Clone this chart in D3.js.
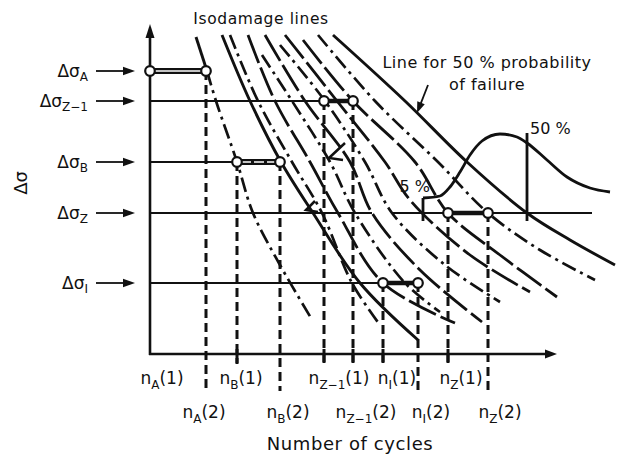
<!DOCTYPE html>
<html><head><meta charset="utf-8">
<script src="https://cdn.jsdelivr.net/npm/d3@7"></script>
<style>
body{margin:0;background:#fff}
svg{display:block}
text{font-family:"DejaVu Sans",sans-serif;fill:#111}
</style>
</head><body>
<svg id="c" width="626" height="459"></svg>
<script>
// ---------------- data (schematic units: x = cycles axis, y = stress range axis) ----------------
const levelNames   = ["A", "Z\u22121", "B", "Z", "I"];
const levelStress  = [28.3, 25.3, 19.2, 14.1, 7.1];
// horizontal stress-level lines [xStart, xEnd, stress]
const stressLines  = [[0, 20.3, 25.3], [0, 13.0, 19.2], [0, 22.2, 14.1], [24.3, 44.2, 14.1], [0, 26.8, 7.1]];

// pairs of cycle numbers n(1), n(2) at each level
const pairNames  = ["A", "B", "Z\u22121", "I", "Z"];
const pairStress = [28.3, 19.2, 25.3, 7.1, 14.1];
const cycles1    = [0, 8.7, 17.4, 23.3, 29.8];
const cycles2    = [5.6, 13.0, 20.3, 26.8, 33.8];

// isodamage lines (S solid, L long dash, D dash-dot)
const isoStyles = ["S", "D", "S", "D", "L", "D", "L", "D", "L", "L", "D", "S"];
const isoLines = [
  [[4.6, 31.7], [5.7, 28.3]],
  [[5.7, 28.3], [6.6, 25.3], [8.7, 19.2], [10.3, 14.1], [13.0, 8.9], [16.1, 3.6]],
  [[7.2, 31.9], [10.0, 25.3], [13.1, 19.2], [16.3, 14.1], [21.0, 7.1], [26.8, 1.4]],
  [[8.0, 31.9], [10.8, 25.3], [14.2, 19.2], [17.2, 14.1], [20.2, 7.1], [23.0, 2.9]],
  [[9.8, 31.9], [12.5, 25.3], [16.0, 19.2], [18.8, 14.1], [23.3, 7.1], [30.5, 3.1]],
  [[11.2, 29.9], [14.2, 25.3], [18.0, 19.2], [20.5, 14.1], [25.5, 7.1], [29.0, 4.2]],
  [[11.5, 31.9], [15.5, 25.3], [20.0, 19.2], [22.2, 14.1], [27.0, 8.4], [33.2, 3.2]],
  [[13.0, 30.9], [17.5, 25.3], [21.5, 19.2], [24.2, 14.1], [29.5, 8.9], [35.0, 5.2]],
  [[13.5, 31.9], [18.7, 25.3], [23.5, 19.2], [26.0, 15.4], [32.0, 9.9], [38.0, 6.2]],
  [[15.3, 31.4], [20.3, 25.3], [26.5, 19.2], [29.8, 14.1], [35.0, 9.9], [40.7, 5.7]],
  [[16.8, 31.9], [22.5, 25.3], [28.8, 19.2], [33.8, 14.1], [39.0, 10.4], [44.5, 7.4]],
  [[18.3, 31.9], [25.5, 25.3], [31.7, 19.2], [37.7, 14.1], [42.0, 11.4], [46.5, 8.9]]
];
// zig-zag jump marks
const jumpMarks = [
  [[19.5, 21.1], [17.9, 19.6], [19.3, 19.4]],
  [[16.5, 15.3], [15.6, 14.4], [16.8, 14.2]]
];
// distribution of life at level Z
const distCurve = [[27.3, 15.6], [29.0, 15.8], [30.0, 16.7], [31.0, 18.2], [32.0, 19.9], [33.2, 21.3],
                   [35.0, 22.0], [36.7, 21.7], [37.7, 21.1], [39.7, 19.4], [41.7, 17.7], [44.0, 16.6], [46.0, 16.2]];
const pctLabels = ["5 %", "50 %"];
const pctCycles = [27.3, 37.7];
const pctTop    = [15.6, 22.1];

// ---------------- drawing ----------------
const svg = d3.select("#c");
const x = d3.scaleLinear().domain([0, 40.7]).range([150, 557]);
const y = d3.scaleLinear().domain([0, 31.4]).range([354, 40]);
const curve = d3.line().x(d => x(d[0])).y(d => y(d[1])).curve(d3.curveCatmullRom.alpha(0.5));
const smoothX = d3.line().x(d => x(d[0])).y(d => y(d[1])).curve(d3.curveMonotoneX);
const straight = d3.line().x(d => x(d[0])).y(d => y(d[1]));
const ink = "#111";

function arrow(x1, y1, x2, y2, len, hw, w) {
  const L = Math.hypot(x2 - x1, y2 - y1);
  svg.append("line").attr("x1", x1).attr("y1", y1)
     .attr("x2", x2 - (x2 - x1) * len / L * 0.8).attr("y2", y2 - (y2 - y1) * len / L * 0.8)
     .attr("stroke", ink).attr("stroke-width", w);
  const a = Math.atan2(y2 - y1, x2 - x1);
  const bx = x2 - len * Math.cos(a), by = y2 - len * Math.sin(a);
  const px = -Math.sin(a) * hw, py = Math.cos(a) * hw;
  svg.append("polygon").attr("points", `${x2},${y2} ${bx + px},${by + py} ${bx - px},${by - py}`).attr("fill", ink);
}

// stress level lines
svg.append("g").selectAll("line").data(stressLines).join("line")
  .attr("x1", d => x(d[0])).attr("x2", d => x(d[1]))
  .attr("y1", d => y(d[2])).attr("y2", d => y(d[2]))
  .attr("stroke", ink).attr("stroke-width", 2);

// isodamage lines
const styleMap = {S: {dash: null, w: 2.9}, L: {dash: "30,5", w: 2.8}, D: {dash: "15,5,3,5", w: 2.7}};
svg.append("g").selectAll("path").data(isoLines).join("path")
  .attr("d", d => curve(d)).attr("fill", "none").attr("stroke", ink)
  .attr("stroke-width", (d, i) => styleMap[isoStyles[i]].w)
  .attr("stroke-dasharray", (d, i) => styleMap[isoStyles[i]].dash)
  .attr("stroke-linecap", "butt");

// jump marks
svg.append("g").selectAll("path").data(jumpMarks).join("path")
  .attr("d", d => straight(d)).attr("fill", "none").attr("stroke", ink).attr("stroke-width", 2.5);

// distribution curve and percentile verticals
svg.append("path").attr("d", smoothX(distCurve)).attr("fill", "none").attr("stroke", ink).attr("stroke-width", 2.8);
pctCycles.forEach((c, i) => {
  svg.append("line").attr("x1", x(c)).attr("x2", x(c)).attr("y1", y(pctTop[i])).attr("y2", y(13.3))
     .attr("stroke", ink).attr("stroke-width", 2.8);
});
svg.append("text").attr("x", x(pctCycles[0]) + 7).attr("y", 192).attr("text-anchor", "end").attr("font-size", 16).text(pctLabels[0]);
svg.append("text").attr("x", x(pctCycles[1]) + 3).attr("y", 134).attr("font-size", 16).text(pctLabels[1]);

// dashed verticals from n(1), n(2)
const shortEnd = y(-1.0), longEnd = y(-3.7);
const longDrop2 = [true, true, false, true, true];
const vg = svg.append("g").attr("stroke", ink).attr("stroke-width", 3).attr("stroke-dasharray", "9,5");
cycles1.forEach((c, i) => {
  if (c === 0) return;
  vg.append("line").attr("x1", x(c)).attr("x2", x(c)).attr("y1", y(pairStress[i])).attr("y2", shortEnd);
});
cycles2.forEach((c, i) => {
  vg.append("line").attr("x1", x(c)).attr("x2", x(c)).attr("y1", y(pairStress[i])).attr("y2", longDrop2[i] ? longEnd : shortEnd);
});
// small axis ticks
const tickAt = cycles1.filter(c => c > 0).concat([cycles2[2]]);
svg.append("g").selectAll("line").data(tickAt).join("line")
  .attr("x1", d => x(d)).attr("x2", d => x(d)).attr("y1", y(0) - 5).attr("y2", y(0) + 9)
  .attr("stroke", ink).attr("stroke-width", 3);

// thick segments between n(1) and n(2)
pairStress.forEach((s, i) => {
  svg.append("line").attr("x1", x(cycles1[i])).attr("x2", x(cycles2[i])).attr("y1", y(s)).attr("y2", y(s))
     .attr("stroke", ink).attr("stroke-width", i < 2 ? 6 : 4.5);
  if (i < 2) {
    svg.append("line").attr("x1", x(cycles1[i]) + 4).attr("x2", x(cycles2[i]) - 4).attr("y1", y(s)).attr("y2", y(s))
       .attr("stroke", "#fff").attr("stroke-width", 1.4).attr("stroke-dasharray", i === 1 ? "10,3" : null);
  }
});
const circ = [];
pairStress.forEach((s, i) => { circ.push([cycles1[i], s]); circ.push([cycles2[i], s]); });

// axes
svg.append("line").attr("x1", x(0)).attr("x2", x(0)).attr("y1", y(0) + 1).attr("y2", y(32.2)).attr("stroke", ink).attr("stroke-width", 2.6);
svg.append("polygon").attr("points", `${x(0)},${y(33.0)} ${x(0) - 4.5},${y(31.6)} ${x(0) + 4.5},${y(31.6)}`).attr("fill", ink);
svg.append("line").attr("x1", x(0) - 1).attr("x2", x(40.0)).attr("y1", y(0)).attr("y2", y(0)).attr("stroke", ink).attr("stroke-width", 2.6);
svg.append("polygon").attr("points", `${x(40.7)},${y(0)} ${x(39.5)},${y(0) - 4.5} ${x(39.5)},${y(0) + 4.5}`).attr("fill", ink);

svg.append("g").selectAll("circle").data(circ).join("circle")
  .attr("cx", d => x(d[0])).attr("cy", d => y(d[1])).attr("r", 4.8)
  .attr("fill", "#fff").attr("stroke", ink).attr("stroke-width", 2.2);

// left stress labels with arrows
levelStress.forEach((s, i) => {
  const t = svg.append("text").attr("x", 88).attr("y", y(s) + 6).attr("text-anchor", "end").attr("font-size", 17);
  t.append("tspan").text("\u0394\u03c3");
  t.append("tspan").attr("font-size", 12).attr("dy", 4).text(levelNames[i]);
  arrow(96, y(s), 135, y(s), 12, 4.2, 1.8);
});

// cycle labels
const row1dx = [12, 4, 15, 14, 13];
const row2dx = [-2, 8, 13, 13, 12];
function nLabel(cx, cy, sub, idx) {
  const t = svg.append("text").attr("x", cx).attr("y", cy).attr("text-anchor", "middle").attr("font-size", 17);
  t.append("tspan").text("n");
  t.append("tspan").attr("font-size", 12).attr("dy", 5).text(sub);
  t.append("tspan").attr("dy", -5).text("(" + idx + ")");
}
pairNames.forEach((n, i) => {
  nLabel(x(cycles1[i]) + row1dx[i], 384, n, 1);
  nLabel(x(cycles2[i]) + row2dx[i], 418, n, 2);
});

// titles
svg.append("text").attr("x", 350).attr("y", 450).attr("text-anchor", "middle").attr("font-size", 18)
   .attr("letter-spacing", 0.6).text("Number of cycles");
svg.append("text").attr("transform", "translate(27,183) rotate(-90)").attr("text-anchor", "middle").attr("font-size", 18)
   .text("\u0394\u03c3");
svg.append("text").attr("x", 261).attr("y", 24).attr("text-anchor", "middle").attr("font-size", 15.5)
   .attr("letter-spacing", 0.6).text("Isodamage lines");
svg.append("text").attr("x", 487).attr("y", 68).attr("text-anchor", "middle").attr("font-size", 16)
   .attr("letter-spacing", 0.5).text("Line for 50 % probability");
svg.append("text").attr("x", 487).attr("y", 90).attr("text-anchor", "middle").attr("font-size", 16)
   .attr("letter-spacing", 0.5).text("of failure");
arrow(428, 85, 417, 113, 11, 4, 1.8);
</script>
</body></html>
